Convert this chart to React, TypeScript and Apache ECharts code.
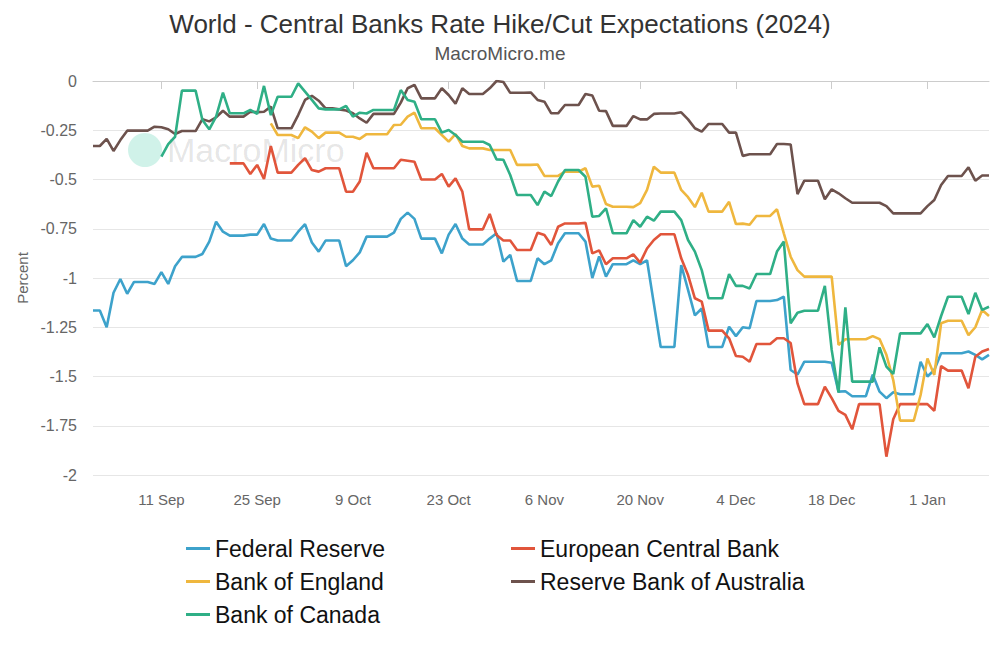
import React, { useEffect, useRef } from "react";
import * as echarts from "echarts";

const START_DATE = "2024-09-01";
const DAY_COUNT = 132;
const MONTHS = ["Jan","Feb","Mar","Apr","May","Jun","Jul","Aug","Sep","Oct","Nov","Dec"];
const categories: string[] = [];
{
  const d0 = new Date(START_DATE + "T00:00:00Z");
  for (let i = 0; i < DAY_COUNT; i++) {
    const d = new Date(d0.getTime() + i * 86400000);
    categories.push(d.getUTCDate() + " " + MONTHS[d.getUTCMonth()]);
  }
}
const FIRST_LABEL_INDEX = 10;
const LABEL_STEP = 14;

const yTicks = { min: -2, max: 0, interval: 0.25 };

const fed = [
  -1.165,-1.165,-1.25,-1.075,-1.005,-1.08,-1.02,-1.02,-1.02,-1.03,
  -0.97,-1.03,-0.94,-0.893,-0.893,-0.893,-0.878,-0.815,-0.714,-0.765,
  -0.785,-0.785,-0.785,-0.78,-0.78,-0.726,-0.8,-0.81,-0.81,-0.81,
  -0.765,-0.727,-0.82,-0.866,-0.81,-0.81,-0.81,-0.94,-0.91,-0.87,
  -0.79,-0.79,-0.79,-0.79,-0.77,-0.7,-0.668,-0.7,-0.8,-0.8,
  -0.8,-0.875,-0.78,-0.726,-0.8,-0.83,-0.83,-0.83,-0.8,-0.773,
  -0.917,-0.883,-1.015,-1.015,-1.015,-0.9,-0.93,-0.91,-0.824,-0.773,
  -0.773,-0.773,-0.815,-1.0,-0.89,-0.993,-0.93,-0.93,-0.93,-0.91,
  -0.93,-0.91,-1.13,-1.35,-1.35,-1.35,-0.934,-1.06,-1.19,-1.155,
  -1.35,-1.35,-1.35,-1.247,-1.295,-1.25,-1.255,-1.117,-1.117,-1.117,
  -1.112,-1.095,-1.467,-1.49,-1.425,-1.425,-1.425,-1.425,-1.43,-1.577,
  -1.575,-1.6,-1.6,-1.6,-1.49,-1.577,-1.61,-1.58,-1.59,-1.59,
  -1.59,-1.425,-1.5,-1.467,-1.382,-1.382,-1.382,-1.382,-1.373,-1.39,
  -1.413,-1.39
];

const ecb = [
  null,null,null,null,null,null,null,null,null,null,
  null,null,null,null,null,null,null,null,null,null,
  -0.418,-0.418,-0.418,-0.472,-0.426,-0.497,-0.33,-0.465,-0.465,-0.465,
  -0.426,-0.392,-0.452,-0.46,-0.443,-0.443,-0.443,-0.562,-0.562,-0.51,
  -0.364,-0.443,-0.443,-0.443,-0.443,-0.4,-0.405,-0.41,-0.5,-0.5,
  -0.5,-0.472,-0.536,-0.494,-0.562,-0.753,-0.753,-0.753,-0.675,-0.782,
  -0.81,-0.81,-0.858,-0.858,-0.858,-0.77,-0.782,-0.832,-0.74,-0.723,
  -0.723,-0.723,-0.72,-0.875,-0.86,-0.93,-0.9,-0.9,-0.9,-0.88,
  -0.922,-0.85,-0.807,-0.778,-0.778,-0.778,-0.9,-0.985,-1.103,-1.12,
  -1.267,-1.267,-1.267,-1.306,-1.396,-1.4,-1.425,-1.335,-1.335,-1.335,
  -1.306,-1.306,-1.33,-1.535,-1.64,-1.64,-1.64,-1.552,-1.61,-1.674,
  -1.695,-1.768,-1.64,-1.64,-1.64,-1.64,-1.907,-1.717,-1.64,-1.64,
  -1.64,-1.64,-1.64,-1.674,-1.447,-1.47,-1.47,-1.47,-1.56,-1.4,
  -1.373,-1.36
];

const boe = [
  null,null,null,null,null,null,null,null,null,null,
  null,null,null,null,null,null,null,null,null,null,
  null,null,null,null,null,null,-0.215,-0.274,-0.274,-0.274,
  -0.29,-0.235,-0.257,-0.29,-0.262,-0.262,-0.262,-0.283,-0.283,-0.294,
  -0.27,-0.27,-0.27,-0.27,-0.223,-0.222,-0.181,-0.161,-0.24,-0.24,
  -0.24,-0.274,-0.308,-0.27,-0.33,-0.342,-0.342,-0.342,-0.35,-0.35,
  -0.35,-0.35,-0.426,-0.426,-0.426,-0.424,-0.482,-0.482,-0.482,-0.46,
  -0.46,-0.46,-0.443,-0.536,-0.532,-0.624,-0.638,-0.638,-0.638,-0.64,
  -0.62,-0.553,-0.435,-0.465,-0.465,-0.465,-0.553,-0.59,-0.64,-0.567,
  -0.663,-0.663,-0.663,-0.613,-0.726,-0.724,-0.73,-0.685,-0.685,-0.685,
  -0.651,-0.773,-0.892,-0.96,-0.993,-0.993,-0.993,-0.993,-0.993,-1.34,
  -1.311,-1.311,-1.311,-1.311,-1.295,-1.31,-1.39,-1.518,-1.724,-1.724,
  -1.724,-1.594,-1.408,-1.492,-1.23,-1.217,-1.217,-1.217,-1.29,-1.25,
  -1.162,-1.193
];

const rba = [
  -0.33,-0.33,-0.294,-0.355,-0.3,-0.252,-0.252,-0.252,-0.252,-0.232,
  -0.235,-0.245,-0.269,-0.254,-0.254,-0.254,-0.194,-0.205,-0.184,-0.151,
  -0.181,-0.181,-0.181,-0.156,-0.158,-0.156,-0.13,-0.24,-0.24,-0.24,
  -0.173,-0.096,-0.075,-0.1,-0.139,-0.139,-0.144,-0.15,-0.164,-0.19,
  -0.212,-0.167,-0.167,-0.167,-0.167,-0.11,-0.037,-0.02,-0.088,-0.088,
  -0.088,-0.037,-0.071,-0.115,-0.037,-0.066,-0.066,-0.066,-0.037,0,
  -0.005,-0.06,-0.06,-0.06,-0.058,-0.096,-0.105,-0.164,-0.164,-0.122,
  -0.122,-0.122,-0.066,-0.074,-0.151,-0.153,-0.228,-0.228,-0.228,-0.178,
  -0.195,-0.195,-0.167,-0.165,-0.165,-0.165,-0.159,-0.195,-0.24,-0.257,
  -0.218,-0.218,-0.218,-0.262,-0.262,-0.38,-0.372,-0.372,-0.372,-0.372,
  -0.32,-0.32,-0.322,-0.574,-0.506,-0.506,-0.506,-0.6,-0.55,-0.57,
  -0.595,-0.618,-0.618,-0.618,-0.618,-0.618,-0.635,-0.672,-0.672,-0.672,
  -0.672,-0.672,-0.635,-0.604,-0.528,-0.482,-0.482,-0.482,-0.438,-0.506,
  -0.48,-0.48
];

const boc = [
  null,null,null,null,null,null,null,null,null,null,
  -0.384,-0.32,-0.283,-0.049,-0.049,-0.049,-0.198,-0.245,-0.181,-0.059,
  -0.164,-0.164,-0.164,-0.147,-0.167,-0.025,-0.173,-0.08,-0.08,-0.08,
  -0.012,-0.054,-0.096,-0.139,-0.144,-0.144,-0.144,-0.127,-0.181,-0.161,
  -0.165,-0.147,-0.147,-0.147,-0.147,-0.046,-0.096,-0.105,-0.194,-0.194,
  -0.194,-0.262,-0.249,-0.274,-0.308,-0.308,-0.308,-0.308,-0.325,-0.398,
  -0.4,-0.477,-0.579,-0.579,-0.579,-0.63,-0.562,-0.584,-0.51,-0.452,
  -0.452,-0.452,-0.486,-0.689,-0.685,-0.646,-0.773,-0.773,-0.773,-0.706,
  -0.74,-0.689,-0.709,-0.663,-0.663,-0.663,-0.706,-0.807,-0.866,-0.96,
  -1.103,-1.103,-1.103,-0.98,-1.04,-1.04,-1.053,-0.98,-0.98,-0.98,
  -0.866,-0.815,-1.23,-1.176,-1.166,-1.166,-1.166,-1.04,-1.365,-1.582,
  -1.149,-1.526,-1.526,-1.526,-1.526,-1.352,-1.45,-1.487,-1.281,-1.281,
  -1.281,-1.281,-1.234,-1.301,-1.193,-1.095,-1.095,-1.095,-1.183,-1.075,
  -1.162,-1.146
];

const seriesDefs = [
  { name: "Federal Reserve", data: fed, color: "#3da2cb" },
  { name: "European Central Bank", data: ecb, color: "#e1553b" },
  { name: "Bank of England", data: boe, color: "#efb73e" },
  { name: "Reserve Bank of Australia", data: rba, color: "#6d524d" },
  { name: "Bank of Canada", data: boc, color: "#2faf86" },
];

const legendLeft = ["Federal Reserve", "Bank of England", "Bank of Canada"];
const legendRight = ["European Central Bank", "Reserve Bank of Australia"];

export default function App() {
  const ref = useRef<HTMLDivElement>(null);
  useEffect(() => {
    document.body.style.margin = "0";
    if (!ref.current) return;
    const chart = echarts.init(ref.current, undefined, { renderer: "svg" });
    const showLabel = (idx: number) =>
      idx >= FIRST_LABEL_INDEX && (idx - FIRST_LABEL_INDEX) % LABEL_STEP === 0;
    const legendCommon = {
      orient: "vertical",
      top: 532,
      icon: "rect",
      itemWidth: 24,
      itemHeight: 3,
      itemGap: 10,
      textStyle: { fontSize: 23, color: "#111", fontFamily: "Liberation Sans, Arial, sans-serif" },
    };
    chart.setOption({
      animation: false,
      backgroundColor: "#fff",
      textStyle: { fontFamily: "Liberation Sans, Arial, sans-serif" },
      title: {
        text: "World - Central Banks Rate Hike/Cut Expectations (2024)",
        subtext: "MacroMicro.me",
        left: "center",
        top: 6,
        itemGap: 7,
        textStyle: { fontSize: 26, fontWeight: "normal", color: "#333" },
        subtextStyle: { fontSize: 19, color: "#555" },
      },
      graphic: [
        {
          type: "circle",
          shape: { cx: 145, cy: 150, r: 17 },
          style: { fill: "rgba(170,232,215,0.55)" },
          z: 0,
          silent: true,
        },
        {
          type: "text",
          x: 167,
          y: 150,
          style: {
            text: "MacroMicro",
            fontSize: 34,
            fill: "rgba(0,0,0,0.11)",
            verticalAlign: "middle",
            fontFamily: "Liberation Sans, Arial, sans-serif",
          },
          z: 0,
          silent: true,
        },
      ],
      legend: [
        { ...legendCommon, left: 181, data: legendLeft },
        { ...legendCommon, left: 506, data: legendRight },
      ],
      grid: { left: 93, right: 11, top: 81, bottom: 176, containLabel: false },
      xAxis: {
        type: "category",
        data: categories,
        boundaryGap: false,
        axisLine: { lineStyle: { color: "#ccc" } },
        axisTick: { interval: (i: number) => showLabel(i), length: 8, lineStyle: { color: "#ccc" } },
        axisLabel: { interval: (i: number) => showLabel(i), fontSize: 15, color: "#666", margin: 17 },
        splitLine: { show: false },
      },
      yAxis: {
        type: "value",
        min: yTicks.min,
        max: yTicks.max,
        interval: yTicks.interval,
        name: "Percent",
        nameLocation: "middle",
        nameGap: 62,
        nameTextStyle: { fontSize: 15, color: "#666" },
        axisLine: { show: false },
        axisTick: { show: false },
        axisLabel: { fontSize: 16, color: "#666", margin: 16 },
        splitLine: { lineStyle: { color: "#e6e6e6" } },
      },
      series: seriesDefs.map((s) => ({
        name: s.name,
        type: "line",
        data: s.data,
        showSymbol: false,
        symbol: "none",
        connectNulls: false,
        lineStyle: { width: 2.6, color: s.color },
        itemStyle: { color: s.color },
        z: 3,
      })),
    });
    return () => chart.dispose();
  }, []);
  return <div ref={ref} style={{ width: 1000, height: 651 }} />;
}
